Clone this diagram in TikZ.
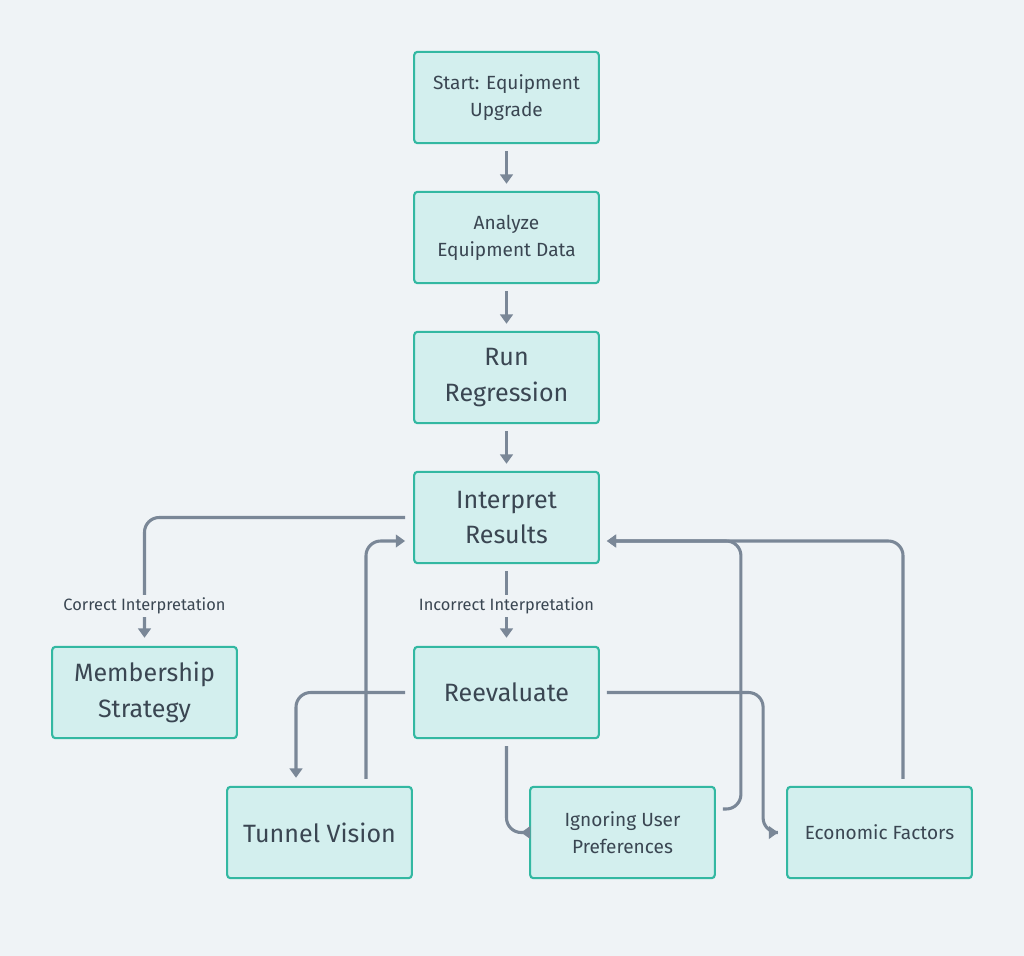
\documentclass[tikz,border=0pt]{standalone}
\usepackage{fontspec}
\setmainfont{Fira Sans}
\usetikzlibrary{arrows.meta,calc}
\definecolor{bg}{HTML}{EFF3F6}
\definecolor{boxfill}{HTML}{D3EFEE}
\definecolor{boxline}{HTML}{33B8A2}
\definecolor{arrowc}{HTML}{7A8797}
\definecolor{txt}{HTML}{3A4652}
\tikzset{
  box/.style={draw=boxline, fill=boxfill, line width=1.6pt, rounded corners=2.5pt,
    minimum width=138.5pt, minimum height=68.5pt, align=center, text=txt, inner sep=0pt},
  smalltxt/.style={font=\fontsize{14.3}{20.3}\selectfont},
  bigtxt/.style={font=\fontsize{18.8}{26.5}\selectfont},
  conn/.style={draw=arrowc, line width=2.3pt, rounded corners=11pt,
    -{Triangle[width=9.5pt,length=7pt]}},
  lbl/.style={fill=bg, text=txt, inner sep=2pt, font=\fontsize{12.3}{14}\selectfont}
}
\begin{document}
\begin{tikzpicture}[x=0.75pt,y=-0.75pt]
\fill[bg] (0,0) rectangle (1024,956);
\useasboundingbox (0,0) rectangle (1024,956);

\node[box,smalltxt] (start) at (506.5,97.5) {Start: Equipment\\Upgrade};
\node[box,smalltxt] (analyze) at (506.5,237.5) {Analyze\\Equipment Data};
\node[box,bigtxt] (run) at (506.5,377.5) {Run\\Regression};
\node[box,bigtxt] (interp) at (506.5,517.5) {Interpret\\Results};
\node[box,bigtxt] (member) at (144.5,692.5) {Membership\\Strategy};
\node[box,bigtxt] (reeval) at (506.5,692.5) {Reevaluate};
\node[box,bigtxt] (tunnel) at (319.5,832.5) {Tunnel Vision};
\node[box,smalltxt] (ignore) at (622.5,832.5) {Ignoring User\\Preferences};
\node[box,smalltxt] (econ) at (879.5,832.5) {Economic Factors};

\draw[conn] ($(start.south)+(0,7)$) -- ($(analyze.north)+(0,-7)$);
\draw[conn] ($(analyze.south)+(0,7)$) -- ($(run.north)+(0,-7)$);
\draw[conn] ($(run.south)+(0,7)$) -- ($(interp.north)+(0,-7)$);
\draw[conn] ($(interp.west)+(-8,0)$) -| ($(member.north)+(0,-8)$);
\draw[conn] ($(interp.south)+(0,7)$) -- ($(reeval.north)+(0,-8)$);
\draw[conn] ($(reeval.west)+(-8,0)$) -| ($(tunnel.north)+(-23.5,-8)$);
\draw[conn] ($(tunnel.north)+(46.5,-7)$) |- ($(interp.west)+(-8,23.5)$);
\draw[conn] ($(reeval.south)+(0,7)$) |- ($(ignore.west)+(-8,0)$);
\draw[conn] ($(reeval.east)+(7,0)$) -| ($(econ.west)+(-23,0)$) -- ($(econ.west)+(-8,0)$);
\draw[conn] ($(ignore.east)+(7,-23.5)$) -| ($(interp.east)+(141,23.5)$) -- ($(interp.east)+(7,23.5)$);
\draw[conn] ($(econ.north)+(23.5,-7)$) |- ($(interp.east)+(7,23.5)$);

\node[lbl] (lcorrect) at (144.5,606) {Correct Interpretation};
\node[lbl] (lincorrect) at (506.5,606) {Incorrect Interpretation};
\end{tikzpicture}
\end{document}
